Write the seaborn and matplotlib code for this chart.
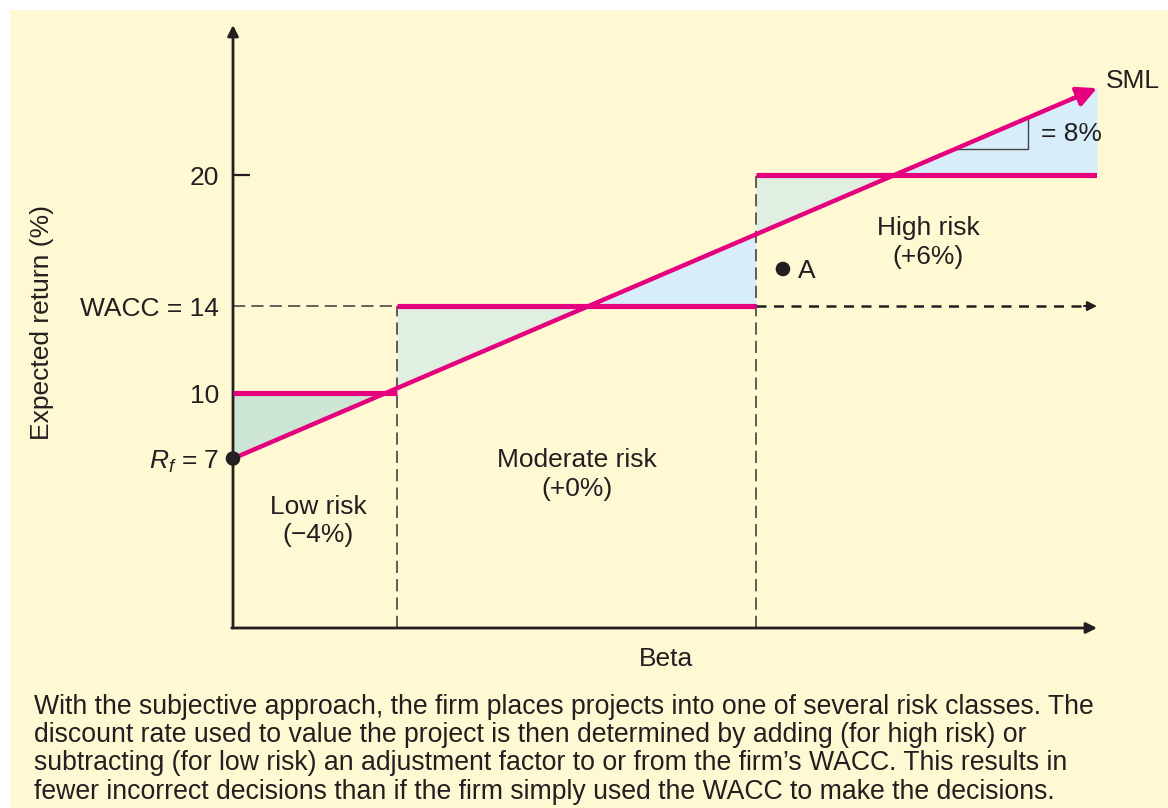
import numpy as np
import matplotlib
matplotlib.use("Agg")
import matplotlib.pyplot as plt
from matplotlib.patches import Rectangle
import seaborn as sns

# values
rf = 7
wacc = 14
class_names = ["Low risk", "Moderate risk", "High risk"]
class_adj = ["(\u22124%)", "(+0%)", "(+6%)"]
class_edges = [0.0, 0.38, 1.21, 2.0]
class_rates = [10, 14, 20]
sml_beta = [0.0, 2.0]
sml_ret = [7.0, 24.0]
point_a = (1.273, 15.7)
tick_vals = [7, 10, 14, 20]
tick_labels = ["$R_f$ = 7", "10", "WACC = 14", "20"]
triangle_beta = [1.67, 1.84]
caption = ("With the subjective approach, the firm places projects into one of several risk classes. The\n"
           "discount rate used to value the project is then determined by adding (for high risk) or\n"
           "subtracting (for low risk) an adjustment factor to or from the firm\u2019s WACC. This results in\n"
           "fewer incorrect decisions than if the firm simply used the WACC to make the decisions.")

PINK = "#E5007D"
INK = "#231F20"
BG = "#FEF9D3"
GREEN_DARK = "#CCE5D5"
GREEN_LIGHT = "#E0EFE2"
BLUE = "#D8EDFA"
FS = 19

sns.set_theme(style="white")
plt.rcParams["font.family"] = ["Liberation Sans", "DejaVu Sans"]
plt.rcParams["mathtext.fontset"] = "custom"
plt.rcParams["mathtext.rm"] = "Liberation Sans"
plt.rcParams["mathtext.it"] = "Liberation Sans:italic"

fig = plt.figure(figsize=(11.68, 8.08), dpi=100)
fig.patch.set_facecolor("white")
fig.patches.append(Rectangle((10 / 1168, 0), 1, 1 - 10 / 808, transform=fig.transFigure,
                             facecolor=BG, edgecolor="none", zorder=-10))

ax = fig.add_axes([233 / 1168, 180 / 808, 864 / 1168, 603 / 808])
ax.set_facecolor("none")
ymin, ymax = -0.78, 26.9
ax.set_xlim(0, 2.0)
ax.set_ylim(ymin, ymax)
for s in ax.spines.values():
    s.set_visible(False)


def sml(b):
    return np.interp(b, sml_beta, sml_ret)


# shaded gaps between hurdle rates and the SML
greens = [GREEN_DARK, GREEN_LIGHT, GREEN_LIGHT]
for i, rate in enumerate(class_rates):
    xs = np.linspace(class_edges[i], class_edges[i + 1], 200)
    ys = sml(xs)
    ax.fill_between(xs, ys, rate, where=ys <= rate, interpolate=True,
                    color=greens[i], lw=0, zorder=1)
    ax.fill_between(xs, ys, rate, where=ys >= rate, interpolate=True,
                    color=BLUE, lw=0, zorder=1)

# dashed guides
ax.plot([0, class_edges[1]], [wacc, wacc], ls=(0, (8, 4)), color="#3a3a3a", lw=1.1, zorder=2)
ax.plot([class_edges[1], class_edges[1]], [ymin, wacc], ls=(0, (8, 4)), color="#333333", lw=1.1, zorder=2)
ax.plot([class_edges[2], class_edges[2]], [ymin, class_rates[2]], ls=(0, (8, 4)), color="#333333",
        lw=1.1, zorder=2)
ax.plot([class_edges[2], class_edges[3] - 0.03], [wacc, wacc], ls=(0, (4, 3)), color=INK, lw=1.8, zorder=2)
ax.annotate("", xy=(class_edges[3], wacc), xytext=(class_edges[3] - 0.03, wacc),
            arrowprops=dict(arrowstyle="-|>", color=INK, lw=1.5, mutation_scale=14,
                            shrinkA=0, shrinkB=0), zorder=2)

# hurdle rates per risk class
for i, rate in enumerate(class_rates):
    sns.lineplot(x=[class_edges[i], class_edges[i + 1]], y=[rate, rate], color=PINK,
                 lw=3.7, ax=ax, zorder=4, solid_capstyle="butt")

# SML
sns.lineplot(x=[sml_beta[0], sml_beta[1] - 0.04], y=[sml_ret[0], sml(sml_beta[1] - 0.04)],
             color=PINK, lw=3.2, ax=ax, zorder=5)
ax.annotate("", xy=(sml_beta[1], sml_ret[1]), xytext=(sml_beta[1] - 0.06, sml(sml_beta[1] - 0.06)),
            arrowprops=dict(arrowstyle="-|>,head_length=0.5,head_width=0.25", color=PINK, lw=3.0,
                            mutation_scale=24, shrinkA=0, shrinkB=0), zorder=5)
ax.text(sml_beta[1] + 0.02, sml_ret[1] + 0.35, "SML", fontsize=FS, color=INK, va="center", ha="left")

# slope triangle
t0, t1 = triangle_beta
ax.plot([t0, t1, t1], [sml(t0), sml(t0), sml(t1)], color="#444444", lw=1.0, zorder=3)
ax.text(t1 + 0.03, (sml(t0) + sml(t1)) / 2, "= 8%", fontsize=FS, color=INK, va="center", ha="left")

# points
sns.scatterplot(x=[0, point_a[0]], y=[rf, point_a[1]], color=INK, s=110, ax=ax, zorder=6,
                edgecolor="none", clip_on=False)
ax.text(point_a[0] + 0.035, point_a[1] - 0.1, "A", fontsize=FS, color=INK, va="center", ha="left")

# axes with arrows
arrow_kw = dict(arrowstyle="-|>", color=INK, lw=2.0, mutation_scale=16, shrinkA=0, shrinkB=0)
ax.annotate("", xy=(0, ymax), xytext=(0, ymin), arrowprops=arrow_kw, annotation_clip=False)
ax.annotate("", xy=(2.0, ymin), xytext=(-0.003, ymin), arrowprops=arrow_kw, annotation_clip=False)

ax.set_xticks([])
ax.set_yticks(tick_vals, tick_labels)
ax.tick_params(axis="y", direction="in", length=12, width=1.6, color=INK, pad=10,
               labelsize=FS, labelcolor=INK, left=True)
# only the 20 tick shows; the others sit under the dot and lines
for t in ax.yaxis.get_major_ticks()[:3]:
    t.tick1line.set_visible(False)

# class labels
label_pos = [(0.197, 4.13), (0.796, 6.25), (1.609, 16.9)]
for name, adj, (bx, by) in zip(class_names, class_adj, label_pos):
    ax.text(bx, by, name + "\n" + adj, ha="center", va="center", fontsize=FS, color=INK,
            linespacing=1.25)

ax.text(1.002, -2.2, "Beta", ha="center", va="center", fontsize=FS, color=INK, clip_on=False)
fig.text(42 / 1168, 1 - 322 / 808, "Expected return (%)", rotation=90, ha="center", va="center",
         fontsize=FS, color=INK)

fig.text(34 / 1168, 1 - 694 / 808, caption, ha="left", va="top", fontsize=19.2, color=INK,
         linespacing=1.11)

fig.savefig("out.png", dpi=100, facecolor=fig.get_facecolor())
